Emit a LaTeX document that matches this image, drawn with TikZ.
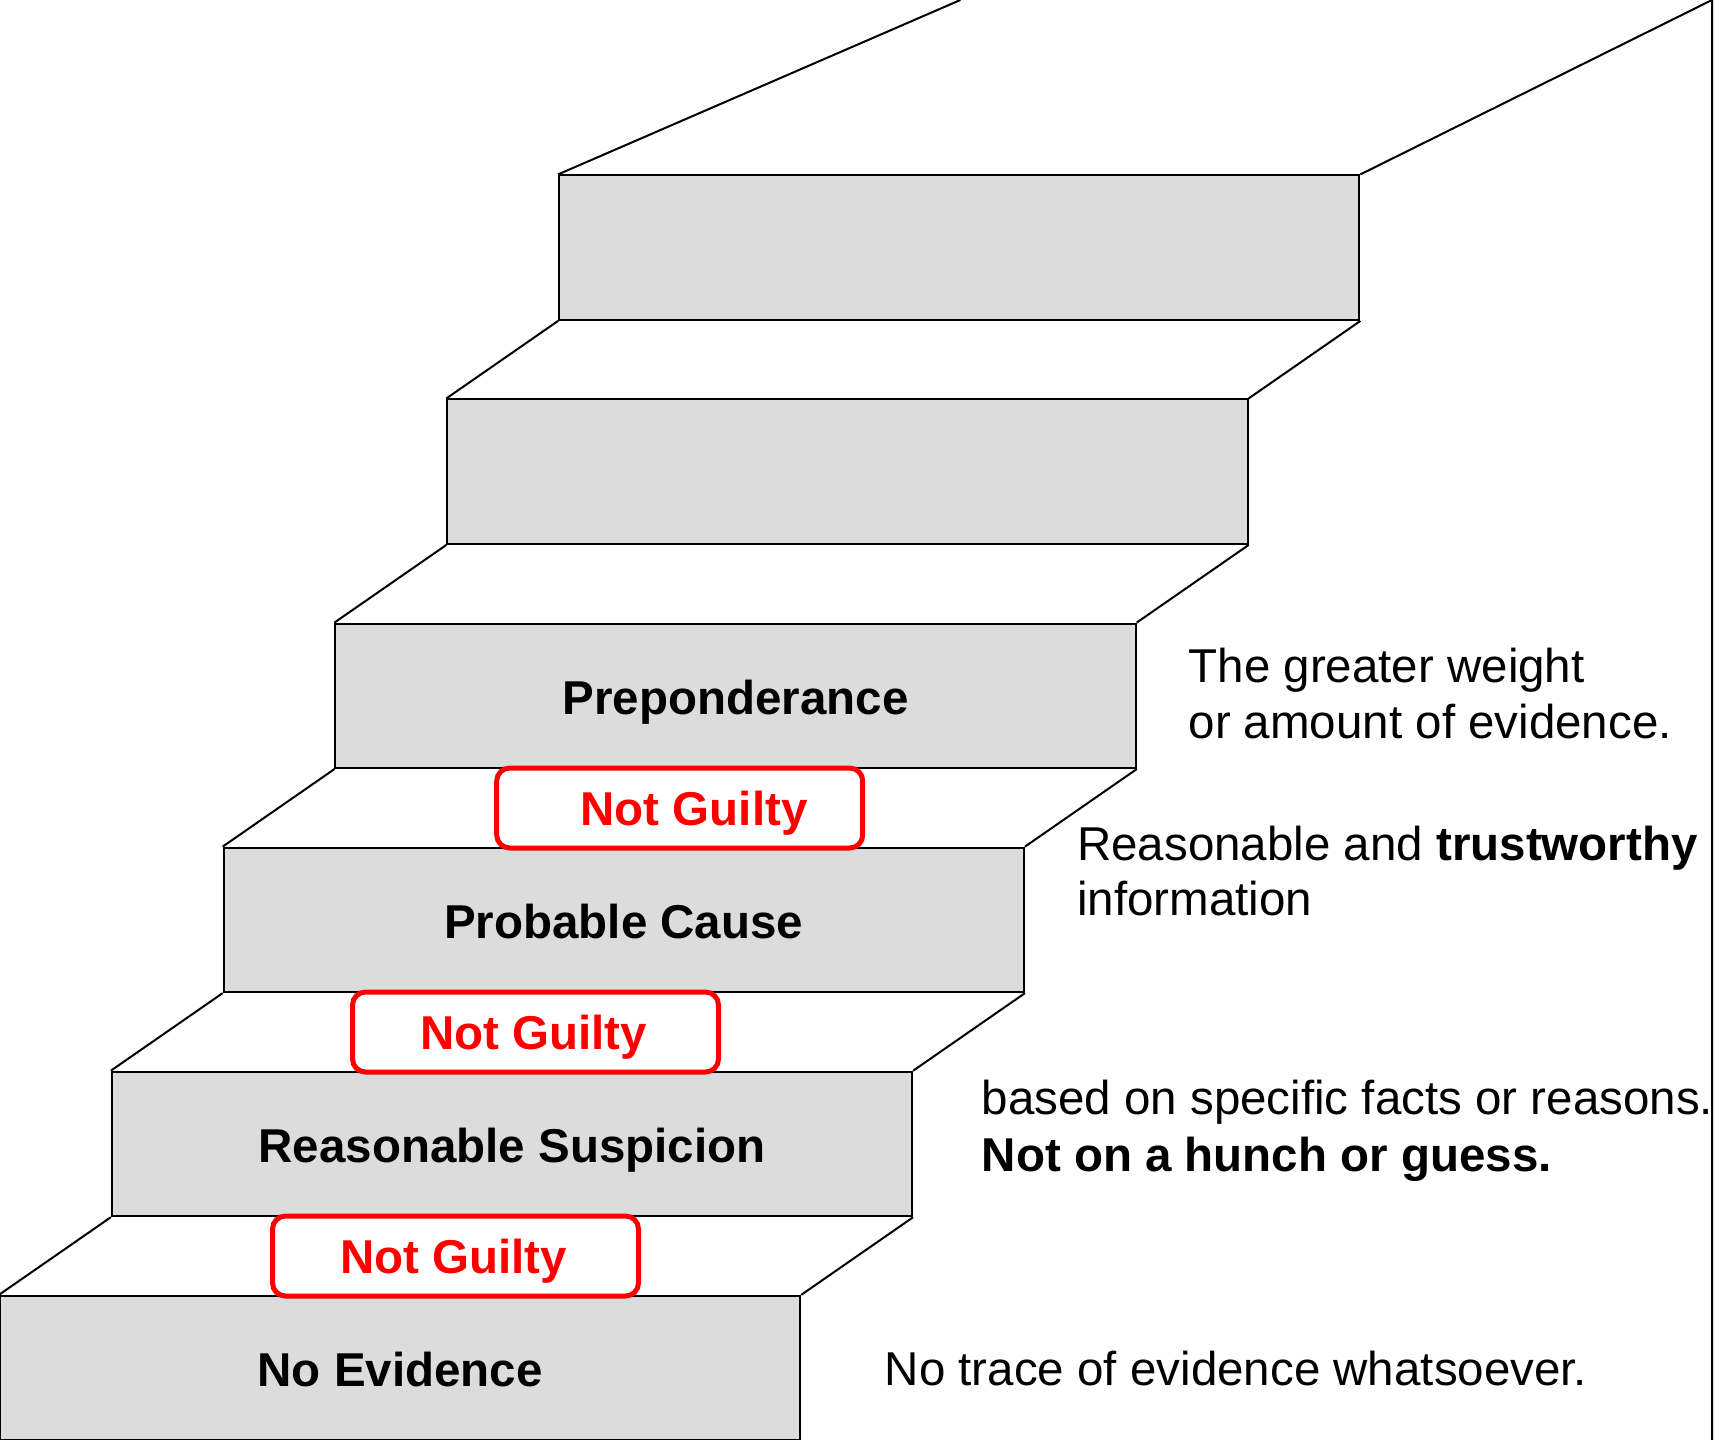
\documentclass[tikz,border=0pt]{standalone}
\usepackage{fontspec}
\setmainfont{Liberation Sans}
\begin{document}
\begin{tikzpicture}[x=1pt,y=-1pt,
  stepbox/.style={draw=black, line width=2pt, fill=stepgray,
    minimum width=800.3pt, minimum height=144.5pt, inner sep=0pt,
    text height=37pt, text depth=0pt,
    font=\fontsize{47.5}{57}\selectfont\bfseries},
  verdict/.style={draw=red, line width=5pt, fill=white, rounded corners=13pt,
    minimum width=366pt, minimum height=80pt, inner sep=0pt},
  verdicttext/.style={text=red, inner sep=0pt,
    text height=35pt, text depth=0pt,
    font=\fontsize{47.5}{57}\selectfont\bfseries},
  note/.style={anchor=base west, inner sep=0pt,
    font=\fontsize{47.5}{57}\selectfont},
  edge/.style={line width=2pt, black}]
\definecolor{stepgray}{RGB}{220,220,220}
\useasboundingbox (0,0) rectangle (1719,1440);

% risers of the staircase, bottom to top
\node[stepbox] (s1) at (400.15,1368.05) {No Evidence};
\node[stepbox] (s2) at (511.97,1143.97) {Reasonable Suspicion};
\node[stepbox] (s3) at (623.79,919.89) {Probable Cause};
\node[stepbox] (s4) at (735.61,695.81) {Preponderance};
\node[stepbox] (s5) at (847.43,471.73) {};
\node[stepbox] (s6) at (959.25,247.65) {};

% tread edges between consecutive risers
\foreach \a/\b in {s1/s2,s2/s3,s3/s4,s4/s5,s5/s6}{
  \draw[edge] (\a.north west) -- (\b.south west);
  \draw[edge] (\a.north east) -- (\b.south east);
}

% upper landing and side wall
\coordinate (topL) at (960.4,0);
\coordinate (topR) at (1712,0);
\coordinate (wallB) at (1712,1440);
\draw[edge] (s6.north west) -- (topL);
\draw[edge] (s6.north east) -- (topR) -- (wallB);

% verdict badges on the treads
\node[verdict] (v1) at (455.5,1256) {};
\node[verdicttext] (t1) at (453.5,1256) {Not Guilty};
\node[verdict] (v2) at (535.5,1032) {};
\node[verdicttext] (t2) at (533.5,1032) {Not Guilty};
\node[verdict] (v3) at (679.7,808) {};
\node[verdicttext] (t3) at (694,808) {Not Guilty};

% descriptions beside each step
\node[note] (d1) at (884.7,1385.5) {No trace of evidence whatsoever.};
\node[note] (d2a) at (981.5,1114.7) {based on specific facts or reasons.};
\node[note] (d2b) at (981.5,1171.3) {\bfseries Not on a hunch or guess.};
\node[note] (d3a) at (1077,860.3) {Reasonable and \textbf{trustworthy}};
\node[note] (d3b) at (1077,915.3) {information};
\node[note] (d4a) at (1188.4,682) {The greater weight};
\node[note] (d4b) at (1188.4,738.7) {or amount of evidence.};
\end{tikzpicture}
\end{document}
